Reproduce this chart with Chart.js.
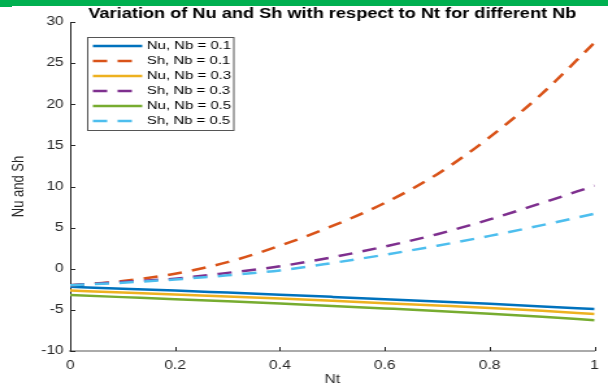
<!DOCTYPE html>
<html>
<head>
<meta charset="utf-8">
<script src="https://cdn.jsdelivr.net/npm/chart.js@4.4.1/dist/chart.umd.min.js"></script>
<style>
  html, body { margin: 0; padding: 0; background: #fff; }
  #cadre { position: relative; width: 608px; height: 389px; overflow: hidden; }
  #graphNuSh { position: absolute; left: 0; top: 0; }
  .bandeau { position: absolute; left: 0; top: 0; width: 608px; height: 6px; background: #00b050; }
  .coin { position: absolute; left: 0; top: 0; width: 12px; height: 7px; background: #00b050; }
</style>
</head>
<body>
<div id="cadre">
  <!-- canvas dessiné en 468 px de large puis étiré à 608 px -->
  <canvas id="graphNuSh" width="468" height="389" style="width:608px;height:389px"></canvas>
  <div class="bandeau"></div><div class="coin"></div>
</div>
<script>
// ===== DONNÉES =====
const nt = [0, 0.1, 0.2, 0.3, 0.4, 0.5, 0.6, 0.7, 0.8, 0.9, 1]
const nuNb01 = [-2.2, -2.42, -2.65, -2.9, -3.15, -3.42, -3.7, -3.98, -4.27, -4.58, -4.9]
const shNb01 = [-2.0, -1.5, -0.6, 0.8, 2.8, 5.2, 8.0, 11.5, 16.0, 21.3, 27.5]
const nuNb03 = [-2.65, -2.88, -3.12, -3.37, -3.63, -3.9, -4.18, -4.47, -4.77, -5.12, -5.5]
const shNb03 = [-2.0, -1.6, -1.2, -0.5, 0.3, 1.4, 2.7, 4.2, 6.0, 8.0, 10.1]
const nuNb05 = [-3.2, -3.45, -3.7, -3.96, -4.23, -4.52, -4.82, -5.13, -5.47, -5.85, -6.25]
const shNb05 = [-2.0, -1.7, -1.3, -0.8, -0.2, 0.7, 1.7, 2.8, 4.0, 5.3, 6.7]
const libelles = ['Nu, Nb = 0.1', 'Sh, Nb = 0.1', 'Nu, Nb = 0.3', 'Sh, Nb = 0.3', 'Nu, Nb = 0.5', 'Sh, Nb = 0.5']
const ticksNt = [0, 0.2, 0.4, 0.6, 0.8, 1]
const ticksY = [-10, -5, 0, 5, 10, 15, 20, 25, 30]
const titre = 'Variation of Nu and Sh with respect to Nt for different Nb'

const couleurs = ['#0072BD', '#D95319', '#EDB120', '#7E2F8E', '#77AC30', '#4DBEEE']
const series = [nuNb01, shNb01, nuNb03, shNb03, nuNb05, shNb05]
const police = '"Liberation Sans", Arial, sans-serif'

// ===== TITRE, LÉGENDE ET GRADUATIONS INTÉRIEURES =====
const habillage = {
    id: 'habillage',
    afterDraw(chart) {
        const ctx = chart.ctx
        const sx = chart.scales.x
        const sy = chart.scales.y
        const { left, bottom } = chart.chartArea
        ctx.save()

        // graduations vers l'intérieur
        ctx.strokeStyle = '#262626'
        ctx.lineWidth = 1
        ctx.beginPath()
        sx.ticks.forEach((t, i) => {
            const px = Math.round(sx.getPixelForTick(i)) + 0.5
            ctx.moveTo(px, bottom)
            ctx.lineTo(px, bottom - 4)
        })
        sy.ticks.forEach((t, i) => {
            const py = Math.round(sy.getPixelForTick(i)) + 0.5
            ctx.moveTo(left, py)
            ctx.lineTo(left + 4, py)
        })
        ctx.stroke()

        // titre
        ctx.fillStyle = '#000'
        ctx.font = 'bold 14px ' + police
        ctx.textAlign = 'center'
        ctx.textBaseline = 'middle'
        ctx.fillText(titre, (sx.left + sx.right) / 2, 14)

        // légende
        ctx.fillStyle = '#fff'
        ctx.fillRect(67.5, 37.5, 112.5, 93)
        ctx.strokeStyle = '#555'
        ctx.strokeRect(67.5, 37.5, 112.5, 93)
        ctx.font = '11.5px ' + police
        ctx.textAlign = 'left'
        chart.data.datasets.forEach((ds, i) => {
            const yl = 46 + 15 * i
            ctx.strokeStyle = ds.borderColor
            ctx.lineWidth = ds.borderWidth
            ctx.setLineDash(ds.borderDash || [])
            ctx.beginPath()
            ctx.moveTo(71.5, yl)
            ctx.lineTo(109.5, yl)
            ctx.stroke()
            ctx.setLineDash([])
            ctx.fillStyle = '#000'
            ctx.fillText(ds.label, 113, yl)
        })
        ctx.restore()
    }
}

// ===== GRAPHIQUE =====
const ctxGraph = document.getElementById('graphNuSh')
new Chart(ctxGraph, {
    type: 'line',
    data: {
        datasets: series.map((vals, i) => ({
            label: libelles[i],
            data: nt.map((x, k) => ({ x: x, y: vals[k] })),
            borderColor: couleurs[i],
            borderWidth: 2.5,
            borderDash: i % 2 === 1 ? [11, 8] : [],
            pointRadius: 0,
            fill: false,
            cubicInterpolationMode: 'monotone',
            order: 6 - i
        }))
    },
    options: {
        responsive: false,
        animation: false,
        devicePixelRatio: 1,
        events: [],
        layout: { padding: { top: 22, right: 2, left: 0, bottom: 0 } },
        plugins: { legend: { display: false }, tooltip: { enabled: false } },
        scales: {
            x: {
                type: 'linear',
                min: 0,
                max: 1,
                afterBuildTicks: s => { s.ticks = ticksNt.map(v => ({ value: v })) },
                afterFit: s => { s.height = 38 },
                grid: { display: false, drawTicks: false },
                border: { color: '#aaaaaa', width: 2 },
                ticks: {
                    color: '#262626', padding: 7, maxRotation: 0,
                    font: { family: police, size: 12 },
                    callback: v => String(v)
                },
                title: { display: true, text: 'Nt', color: '#262626', padding: { top: 0, bottom: 2 }, font: { family: police, size: 12 } }
            },
            y: {
                min: -10,
                max: 30,
                afterBuildTicks: s => { s.ticks = ticksY.map(v => ({ value: v })) },
                afterFit: s => { s.width = 54 },
                grid: { display: false, drawTicks: false },
                border: { color: '#262626', width: 1 },
                ticks: { color: '#262626', padding: 5, font: { family: police, size: 12 } },
                title: { display: true, text: 'Nu and Sh', color: '#262626', padding: { top: 7, bottom: 0 }, font: { family: police, size: 13 } }
            }
        }
    },
    plugins: [habillage]
})
</script>
</body>
</html>
